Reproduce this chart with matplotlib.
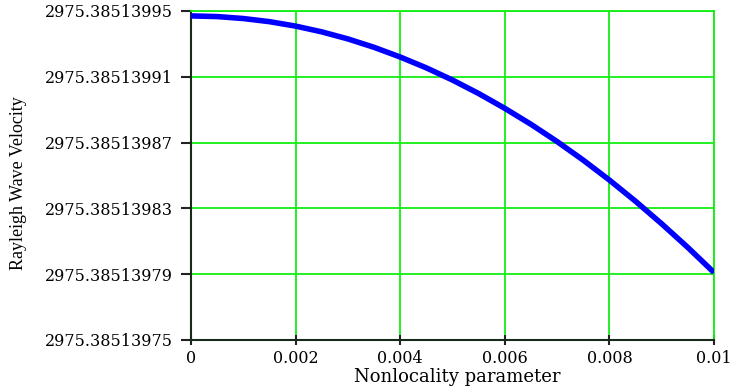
import numpy as np
import matplotlib
matplotlib.use("Agg")
import matplotlib.pyplot as plt
from matplotlib.ticker import FixedLocator, FixedFormatter

# nonlocality parameter vs. Rayleigh wave velocity
nonlocality = [0.0, 0.0005, 0.001, 0.0015, 0.002, 0.0025, 0.003, 0.0035, 0.004, 0.0045,
               0.005, 0.0055, 0.006, 0.0065, 0.007, 0.0075, 0.008, 0.0085, 0.009, 0.0095, 0.01]
velocity = [2975.3851399470, 2975.3851399466, 2975.3851399454, 2975.3851399435,
            2975.3851399408, 2975.3851399373, 2975.3851399330, 2975.3851399279,
            2975.3851399220, 2975.3851399154, 2975.3851399080, 2975.3851398998,
            2975.3851398908, 2975.3851398811, 2975.3851398706, 2975.3851398593,
            2975.3851398472, 2975.3851398343, 2975.3851398206, 2975.3851398062,
            2975.3851397910]

x_ticks = [0, 0.002, 0.004, 0.006, 0.008, 0.01]
x_tick_labels = ["0", "0.002", "0.004", "0.006", "0.008", "0.01"]
y_ticks = [2975.38513975, 2975.38513979, 2975.38513983, 2975.38513987,
           2975.38513991, 2975.38513995]
y_tick_labels = ["2975.38513975", "2975.38513979", "2975.38513983",
                 "2975.38513987", "2975.38513991", "2975.38513995"]

plt.rc('font', family='DejaVu Serif')

fig = plt.figure(figsize=(7.31, 3.89), dpi=100)
ax = fig.add_axes([0.2613, 0.126, 0.7155, 0.8458])

ax.plot(nonlocality, velocity, color='#0000ff', lw=4, solid_capstyle='butt', zorder=3)

ax.set_xlim(0, 0.01)
ax.set_ylim(y_ticks[0], y_ticks[-1])
ax.xaxis.set_major_locator(FixedLocator(x_ticks))
ax.xaxis.set_major_formatter(FixedFormatter(x_tick_labels))
ax.yaxis.set_major_locator(FixedLocator(y_ticks))
ax.yaxis.set_major_formatter(FixedFormatter(y_tick_labels))

ax.grid(True, color='#11ee11', lw=1.3)
ax.set_axisbelow(True)
for side in ['top', 'right']:
    ax.spines[side].set_color('#11ee11')
    ax.spines[side].set_linewidth(1.3)
for side in ['left', 'bottom']:
    ax.spines[side].set_color('#1a2a1a')
    ax.spines[side].set_linewidth(1.5)

ax.tick_params(axis='y', direction='out', length=7, width=1.5, color='#222222',
               labelsize=11.5, pad=6)
ax.tick_params(axis='x', direction='inout', length=7, width=1.5, color='#222222',
               labelsize=11.5, pad=4)

ax.set_xlabel("Nonlocality parameter", fontsize=13, va='center')
ax.xaxis.set_label_coords(0.5086, -0.1125)
ax.set_ylabel("Rayleigh Wave Velocity", fontsize=13, family='Liberation Serif', va='center')
ax.yaxis.set_label_coords(-0.33, 0.477)

fig.savefig("out.png", dpi=100)
